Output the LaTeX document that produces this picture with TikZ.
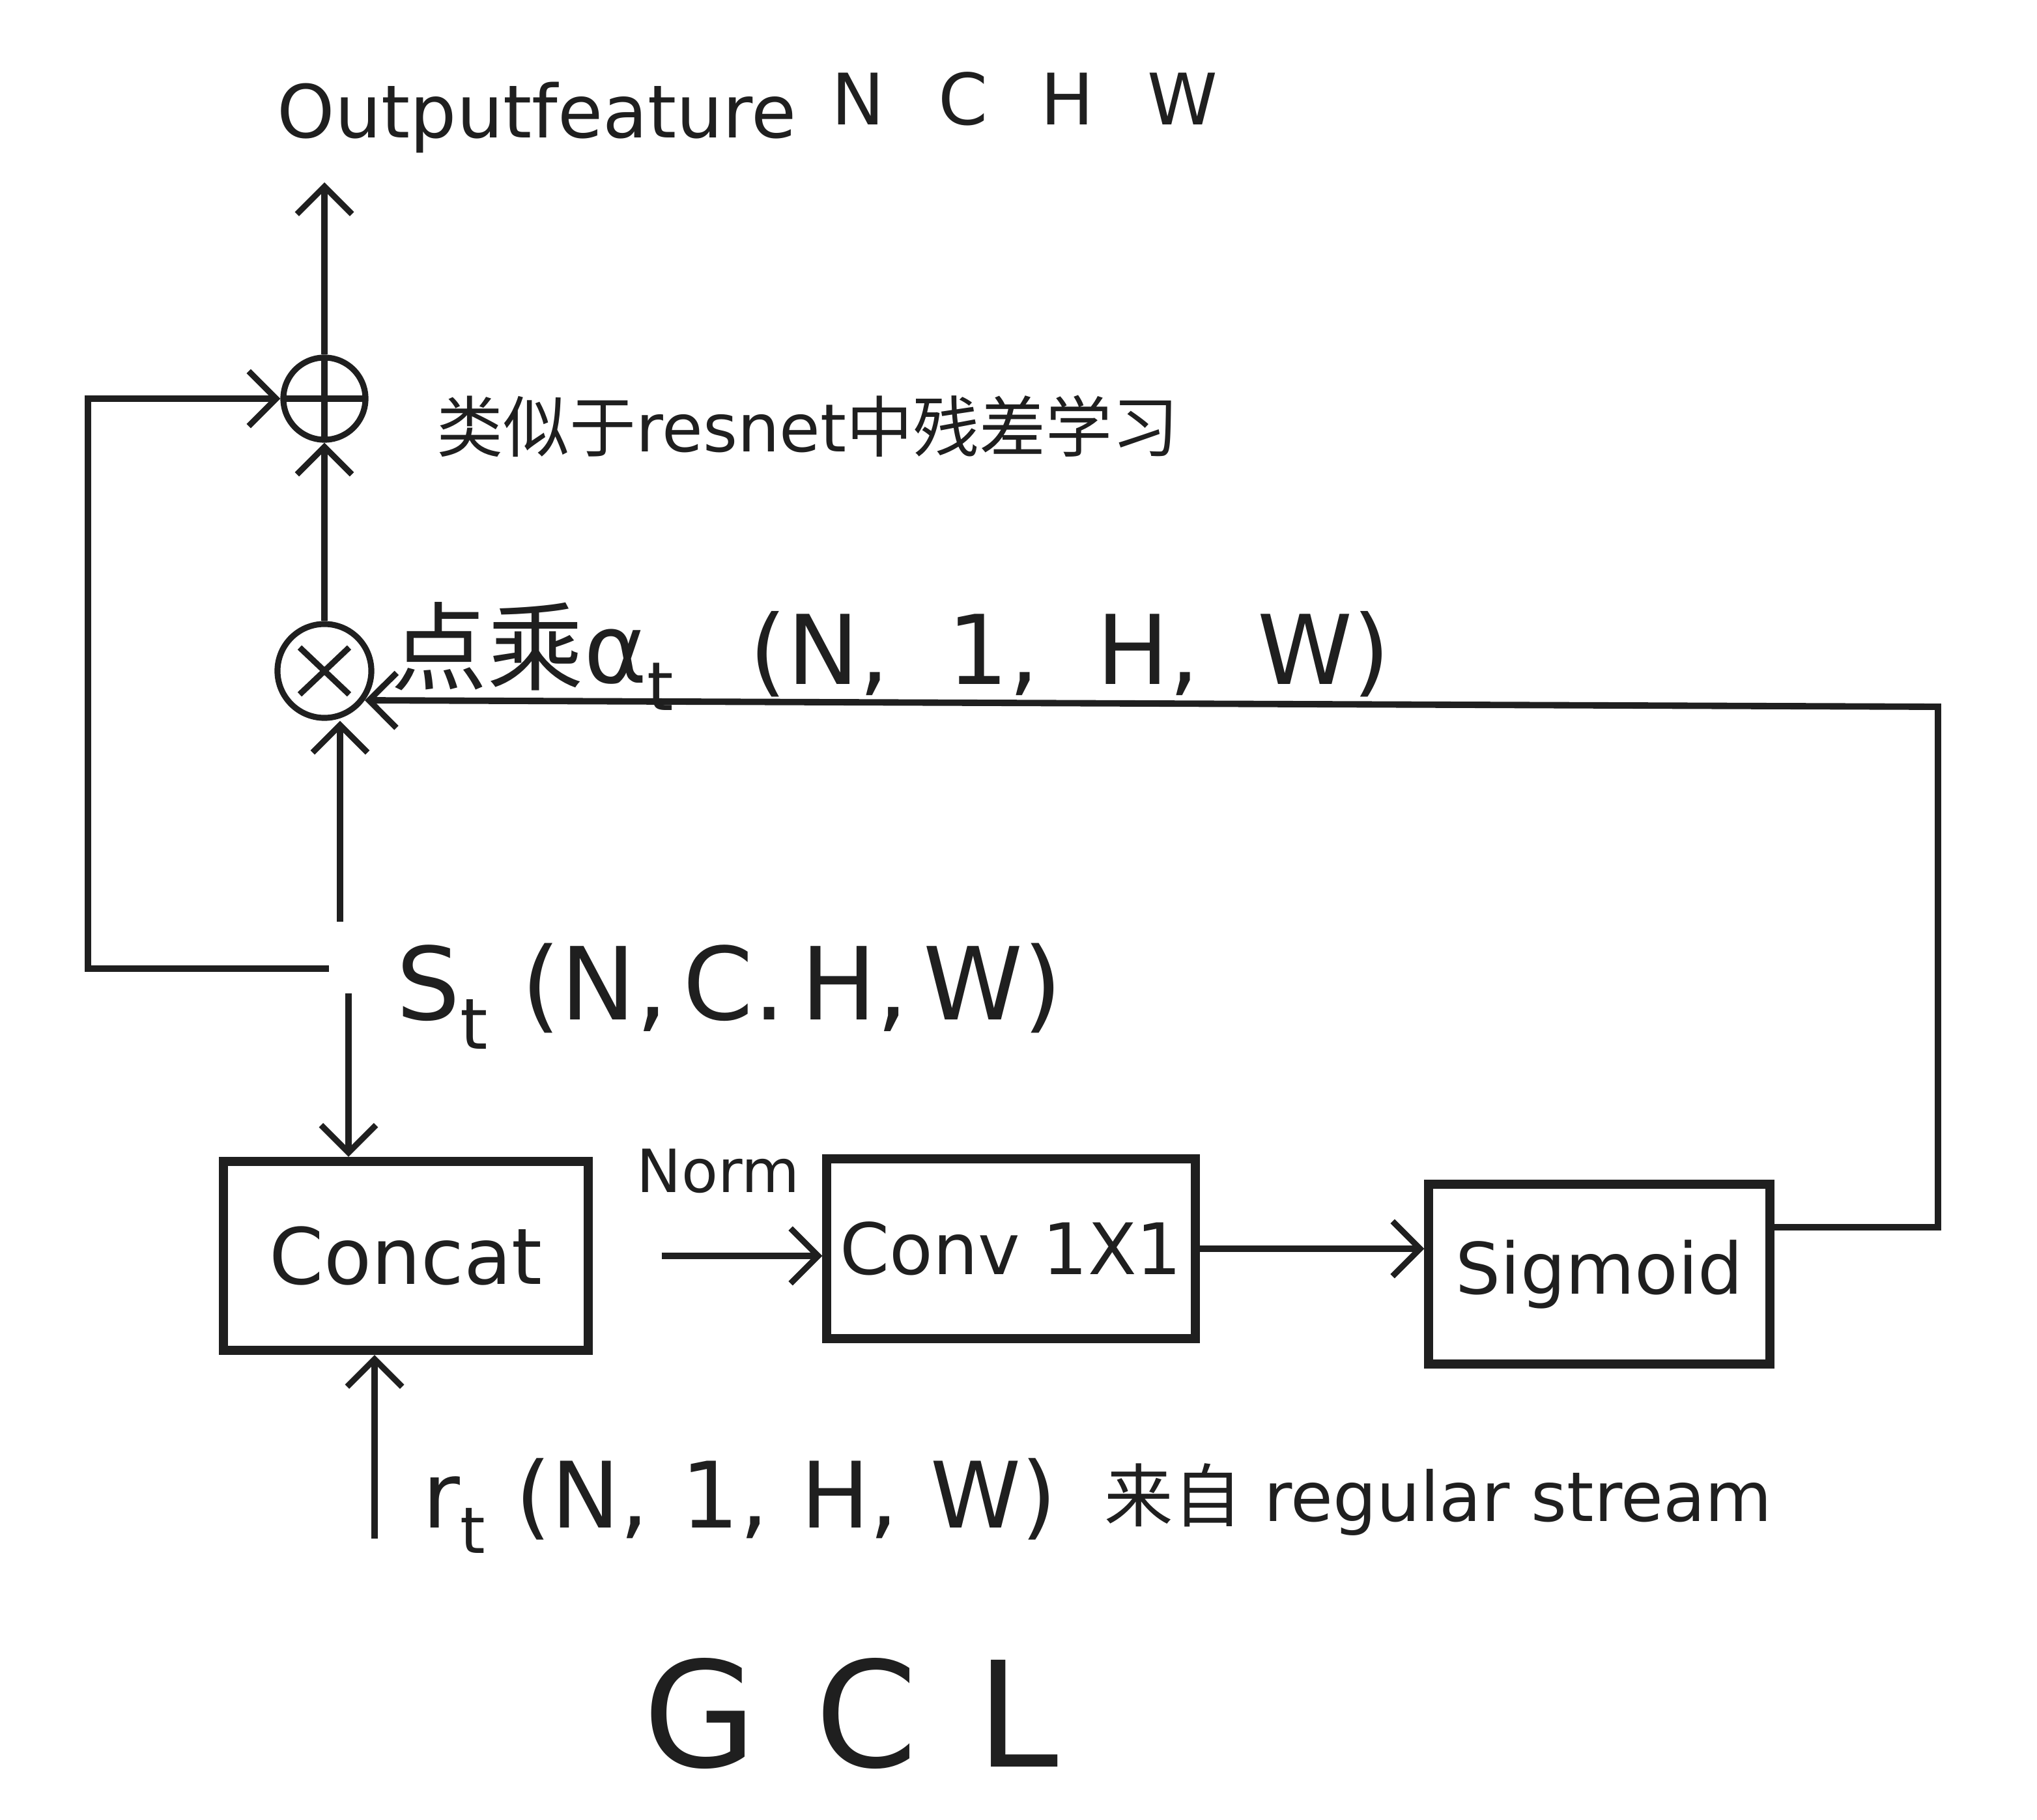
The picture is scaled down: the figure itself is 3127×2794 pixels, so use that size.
\documentclass[tikz,border=0pt]{standalone}
\usepackage{fontspec}
\setmainfont{DejaVu Sans}
\newfontfamily\cjk{Noto Sans CJK SC}
\usetikzlibrary{arrows.meta,calc}
\begin{document}
\begin{tikzpicture}[x=0.01cm,y=-0.01cm,
  conn/.style={line width=2.8pt, draw=black!88},
  arr/.style={conn, -{Straight Barb[length=12pt,width=24pt,line width=2.6pt]}},
  box/.style={draw=black!88, line width=4pt, rectangle, inner sep=0pt, text=black!88},
  opcircle/.style={circle, draw=black!88, line width=2.6pt, inner sep=0pt},
  lbl/.style={inner sep=0pt, text=black!88, anchor=base west},
]
\useasboundingbox[fill=white] (0,0) rectangle (3127,2794);

% operator circles
\node[opcircle, minimum size=1.26cm,
  path picture={\draw[line width=2.6pt] (path picture bounding box.north) -- (path picture bounding box.south)
     (path picture bounding box.west) -- (path picture bounding box.east);}] (plus) at (498,612) {};
\node[opcircle, minimum size=1.44cm,
  path picture={\draw[line width=2.6pt]
     ([shift={(-38,-36)}]path picture bounding box.center) -- ([shift={(38,36)}]path picture bounding box.center)
     ([shift={(-38,36)}]path picture bounding box.center) -- ([shift={(38,-36)}]path picture bounding box.center);}] (times) at (498,1030) {};

% boxes
\node[box, minimum width=5.6cm, minimum height=2.9cm, font=\fontsize{34}{40}\selectfont] (concat) at (623,1928) {Concat};
\node[box, minimum width=5.65cm, minimum height=2.75cm, font=\fontsize{31}{38}\selectfont] (conv) at (1552,1917) {Conv 1X1};
\node[box, minimum width=5.23cm, minimum height=2.76cm, font=\fontsize{31}{38}\selectfont] (sigmoid) at (2455,1956) {Sigmoid};

% texts
\node[lbl, font=\fontsize{32}{38}\selectfont] (outtxt) at (425,212) {Outputfeature};
\node[lbl, font=\fontsize{31}{38}\selectfont] (nchw) at (1276,192) {N\hspace{0.75em}C\hspace{0.75em}H\hspace{0.75em}W};
\node[lbl, font=\fontsize{29}{35}\selectfont] (resnote) at (670,693) {{\cjk 类似于}resnet{\cjk 中残差学习}};
\node[lbl, font=\fontsize{42}{48}\selectfont] (multxt) at (600,1048) {{\cjk 点乘}α\textsubscript{t}};
\node[lbl, font=\fontsize{42}{48}\selectfont] (alphadim) at (1150,1050) {(N,\hspace{0.6em}1,\hspace{0.6em}H,\hspace{0.6em}W)};
\node[lbl, font=\fontsize{44}{50}\selectfont] (sttxt) at (608,1565) {S\textsubscript{t} (N,\hspace{0.15em}C.\hspace{0.15em}H,\hspace{0.15em}W)};
\node[lbl, font=\fontsize{26}{30}\selectfont] (norm) at (977,1830) {Norm};
\node[lbl, font=\fontsize{40}{46}\selectfont] (rttxt) at (648,2345) {r\textsubscript{t} (N,\hspace{0.35em}1,\hspace{0.35em}H,\hspace{0.35em}W)};
\node[lbl, font=\fontsize{30}{36}\selectfont] (rtsrc) at (1695,2335) {{\cjk 来自} regular stream};
\node[lbl, font=\fontsize{64}{70}\selectfont] (gcl) at (987,2712) {G\hspace{0.4em}C\hspace{0.4em}L};

% coordinates
\coordinate (outtop) at (498,280);
\coordinate (stUp) at (522,1415);
\coordinate (stLeft) at (505,1487);
\coordinate (loopCorner) at (135,1487);
\coordinate (stDown) at (535,1525);
\coordinate (rIn) at (575,2362);
\coordinate (rc2) at (2975,1085);

% connectors
\draw[arr] (plus.north) -- (outtop);
\draw[arr] (times.north) -- (plus.south);
\draw[arr] (stUp) -- (stUp |- times.south);
\draw[arr] (stLeft) -- (loopCorner) |- (plus.west);
\draw[arr] (stDown) -- (stDown |- concat.north);
\draw[arr] (rIn) -- (rIn |- concat.south);
\draw[arr, shorten <=30pt] (concat.east) -- (conv.west |- concat.east);
\draw[arr] (conv.east) -- (sigmoid.west |- conv.east);
\draw[arr] (sigmoid.15) -| (rc2) -- (times.-36);
\end{tikzpicture}
\end{document}
